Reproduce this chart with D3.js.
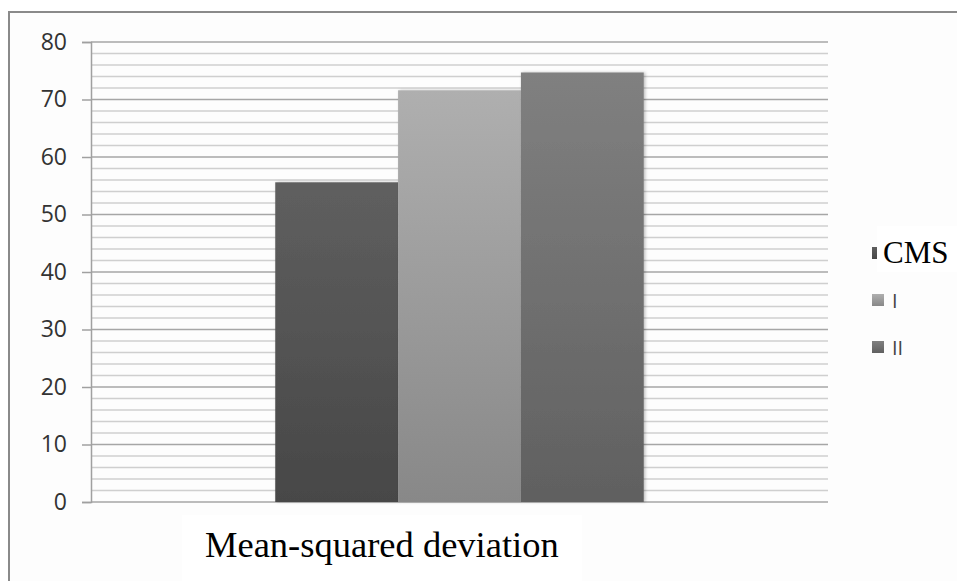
<!DOCTYPE html>
<html>
<head>
<meta charset="utf-8">
<script src="https://cdn.jsdelivr.net/npm/d3@7"></script>
<style>
  html, body { margin: 0; padding: 0; background: #ffffff; }
  svg { display: block; }
</style>
</head>
<body>
<div id="chart"></div>
<script>
// chart values
const categories = ['Mean-squared deviation'];
const seriesNames = ['CMS', 'I', 'II'];
const seriesValues = [55.6, 71.6, 74.7];
const yTickLabels = [0, 10, 20, 30, 40, 50, 60, 70, 80];
const yMinorTicks = [2, 4, 6, 8, 12, 14, 16, 18, 22, 24, 26, 28, 32, 34, 36, 38,
  42, 44, 46, 48, 52, 54, 56, 58, 62, 64, 66, 68, 72, 74, 76, 78];

const W = 957;
const H = 581;
const plot = { left: 91, right: 828, top: 42, bottom: 502 };

// top and bottom colour of each bar's gradient
const barColors = {
  CMS: ['#5f5f5f', '#474747'],
  I: ['#afafaf', '#888888'],
  II: ['#808080', '#606060']
};

const svg = d3.select('#chart')
  .append('svg')
  .attr('width', W)
  .attr('height', H);

const defs = svg.append('defs');
seriesNames.forEach((s, i) => {
  const g = defs.append('linearGradient')
    .attr('id', 'grad' + i)
    .attr('x1', 0).attr('y1', 0).attr('x2', 0).attr('y2', 1);
  g.append('stop').attr('offset', '0%').attr('stop-color', barColors[s][0]);
  g.append('stop').attr('offset', '100%').attr('stop-color', barColors[s][1]);
});
const shadow = defs.append('filter').attr('id', 'shadow')
  .attr('x', '-10%').attr('y', '-10%').attr('width', '130%').attr('height', '130%');
shadow.append('feDropShadow')
  .attr('dx', 1.5).attr('dy', 0).attr('stdDeviation', 1.5)
  .attr('flood-color', '#000').attr('flood-opacity', 0.25);

// chart area with its frame (top and left edges only are in view)
svg.append('rect')
  .attr('x', 9).attr('y', 12)
  .attr('width', W).attr('height', H)
  .attr('fill', '#fdfdfd');
svg.append('path')
  .attr('d', `M9,${H} V12 H${W}`)
  .attr('fill', 'none')
  .attr('stroke', '#8a8a8a')
  .attr('stroke-width', 2);

// scales
const x = d3.scaleBand()
  .domain(categories)
  .range([plot.left, plot.right])
  .paddingInner(0)
  .paddingOuter(0.5);

const xs = d3.scaleBand()
  .domain(seriesNames)
  .range([0, x.bandwidth()])
  .padding(0);

const y = d3.scaleLinear()
  .domain([0, 80])
  .range([plot.bottom, plot.top]);

// minor gridlines
svg.append('g')
  .selectAll('line')
  .data(yMinorTicks)
  .enter()
  .append('line')
  .attr('x1', plot.left).attr('x2', plot.right)
  .attr('y1', d => y(d)).attr('y2', d => y(d))
  .attr('stroke', '#cfcfcf')
  .attr('stroke-width', 1.3);

// major gridlines
svg.append('g')
  .selectAll('line')
  .data(yTickLabels)
  .enter()
  .append('line')
  .attr('x1', plot.left).attr('x2', plot.right)
  .attr('y1', d => y(d)).attr('y2', d => y(d))
  .attr('stroke', '#a6a6a6')
  .attr('stroke-width', 1.5);

// y axis
const yAxis = svg.append('g')
  .attr('transform', `translate(${plot.left},0)`)
  .call(d3.axisLeft(y)
    .tickValues(yTickLabels)
    .tickSize(9)
    .tickPadding(15));
yAxis.select('.domain').attr('stroke', '#a0a0a0').attr('stroke-width', 1.5);
yAxis.selectAll('.tick line').attr('stroke', '#a0a0a0').attr('stroke-width', 1.5);
yAxis.selectAll('.tick text')
  .attr('fill', '#333333')
  .style('font-family', '"Open Sans", sans-serif')
  .style('font-size', '23px');

// bars
const barData = seriesNames.map((s, i) => ({ series: s, value: seriesValues[i], cat: categories[0], idx: i }));
svg.append('g')
  .selectAll('.bar')
  .data(barData)
  .enter()
  .append('rect')
  .attr('class', 'bar')
  .attr('x', d => x(d.cat) + xs(d.series))
  .attr('width', xs.bandwidth())
  .attr('y', d => y(d.value))
  .attr('height', d => y(0) - y(d.value))
  .attr('fill', d => `url(#grad${d.idx})`)
  .attr('filter', 'url(#shadow)');

// category label
svg.append('rect')
  .attr('x', 182).attr('y', 515)
  .attr('width', 400).attr('height', 66)
  .attr('fill', '#ffffff');
svg.append('text')
  .attr('x', 205)
  .attr('y', 557)
  .attr('fill', '#000')
  .style('font-family', '"Liberation Serif", "Times New Roman", serif')
  .style('font-size', '36.5px')
  .text(categories[0]);

// legend
const legendY = d3.scalePoint()
  .domain(seriesNames)
  .range([253, 347]);

const legend = svg.append('g');
legend.selectAll('rect')
  .data(seriesNames)
  .enter()
  .append('rect')
  .attr('x', 872)
  .attr('y', d => legendY(d) - 6)
  .attr('width', 12)
  .attr('height', 12)
  .attr('fill', (d, i) => `url(#grad${i})`);

// the CMS label sits in its own white box that hides part of its key
legend.append('rect')
  .attr('x', 877).attr('y', 226)
  .attr('width', 80).attr('height', 46)
  .attr('fill', '#ffffff');

legend.selectAll('text')
  .data(seriesNames)
  .enter()
  .append('text')
  .attr('x', d => d === 'CMS' ? 883 : 892)
  .attr('y', d => d === 'CMS' ? legendY(d) + 10 : legendY(d) + 7.5)
  .attr('fill', d => d === 'CMS' ? '#000' : '#444')
  .style('font-family', d => d === 'CMS' ? '"Liberation Serif", "Times New Roman", serif' : '"Open Sans", sans-serif')
  .style('font-size', d => d === 'CMS' ? '31px' : '20px')
  .text(d => d);
</script>
</body>
</html>
